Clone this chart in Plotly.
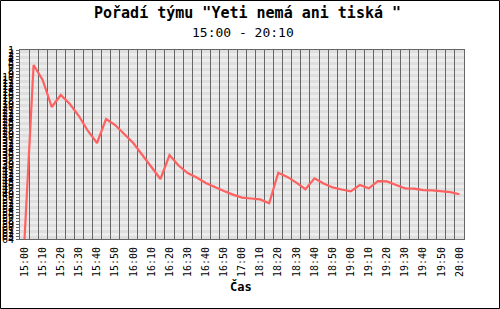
import plotly.graph_objects as go

# --- data ---------------------------------------------------------------
times = ["15:00","15:05","15:10","15:15","15:20","15:25","15:30","15:35","15:40","15:45",
         "15:50","15:55","16:00","16:05","16:10","16:15","16:20","16:25","16:30","16:35",
         "16:40","16:45","16:50","16:55","17:00","18:05","18:10","18:15","18:20","18:25",
         "18:30","18:35","18:40","18:45","18:50","18:55","19:00","19:05","19:10","19:15",
         "19:20","19:25","19:30","19:35","19:40","19:45","19:50","19:55","20:00"]
rank = [64, 6, 11, 20, 16, 19, 23, 28, 32, 24,
        26, 29, 32, 36, 40, 44, 36, 39.5, 42, 43.5,
        45.3, 46.7, 48, 49.2, 50.2, 50.5, 50.8, 52.1, 41.9, 43.3,
        45.2, 47.4, 43.8, 45.5, 46.8, 47.5, 48.1, 46, 47.1, 44.7,
        44.8, 46, 47.1, 47.2, 47.7, 47.8, 48, 48.4, 49.1]
n_teams = 64
title = 'Pořadí týmu "Yeti nemá ani tiská "'
subtitle = "15:00 - 20:10"
x_title = "Čas"

# --- figure -------------------------------------------------------------
idx = list(range(len(times)))
W, H = 500, 309
ml, mr, mt, mb = 20, 36, 50, 70
pw, ph = W - ml - mr, H - mt - mb

def px_x(x):
    return (x - ml) / pw

def px_y(y):
    return (mt + ph - y) / ph

fig = go.Figure()
fig.add_trace(go.Scatter(x=idx, y=rank, mode="lines",
                         line=dict(color="#ff6060", width=2.2), hoverinfo="skip"))

shapes = []
# alternating horizontal stripes per rank step
for r in range(1, n_teams):
    shapes.append(dict(type="rect", xref="paper", yref="y", x0=0, x1=1, y0=r, y1=r + 1,
                       fillcolor="#dedede" if r % 2 else "#ececec", line_width=0, layer="below"))
# outer image border
shapes.append(dict(type="rect", xref="paper", yref="paper",
                   x0=px_x(0.5), x1=px_x(W - 0.5), y0=px_y(H - 0.5), y1=px_y(0.5),
                   line=dict(color="black", width=1), fillcolor="rgba(0,0,0,0)"))

fig.update_layout(
    width=W, height=H, margin=dict(l=ml, r=mr, t=mt, b=mb, autoexpand=False),
    paper_bgcolor="white", plot_bgcolor="#e6e6e6", showlegend=False,
    shapes=shapes,
    annotations=[
        dict(text="<b>" + title + "</b>", xref="paper", yref="paper",
             x=px_x(247), y=px_y(13), xanchor="center", yanchor="middle", showarrow=False,
             font=dict(family="DejaVu Sans Mono", size=15, color="black")),
        dict(text=subtitle, xref="paper", yref="paper",
             x=px_x(243), y=px_y(33), xanchor="center", yanchor="middle", showarrow=False,
             font=dict(family="DejaVu Sans Mono", size=13, color="black")),
        dict(text="<b>" + x_title + "</b>", xref="paper", yref="paper",
             x=px_x(241), y=px_y(286), xanchor="center", yanchor="middle", showarrow=False,
             font=dict(family="DejaVu Sans Mono", size=12, color="black")),
    ],
    xaxis=dict(range=[-0.5, len(times) - 0.5], tickmode="array", automargin=False,
               tickvals=idx[::2], ticktext=times[::2], tickangle=-90,
               ticklabelstandoff=3,
               tickfont=dict(family="DejaVu Sans Mono", size=10, color="black"),
               showgrid=False, zeroline=False, ticks="", showline=True,
               linecolor="#666666", linewidth=1, mirror=True,
               minor=dict(tickvals=[i + 0.5 for i in idx[:-1]], showgrid=True,
                          gridcolor="#666666", gridwidth=1, ticks="")),
    yaxis=dict(range=[n_teams, 1], tickmode="linear", tick0=1, dtick=1, automargin=False,
               tickfont=dict(family="DejaVu Sans Mono", size=10, color="black"),
               showgrid=False, zeroline=False, ticks="outside", ticklen=3,
               tickcolor="#666666", showline=True, linecolor="#666666",
               linewidth=1, mirror=True),
)

fig.write_html("out.html")
